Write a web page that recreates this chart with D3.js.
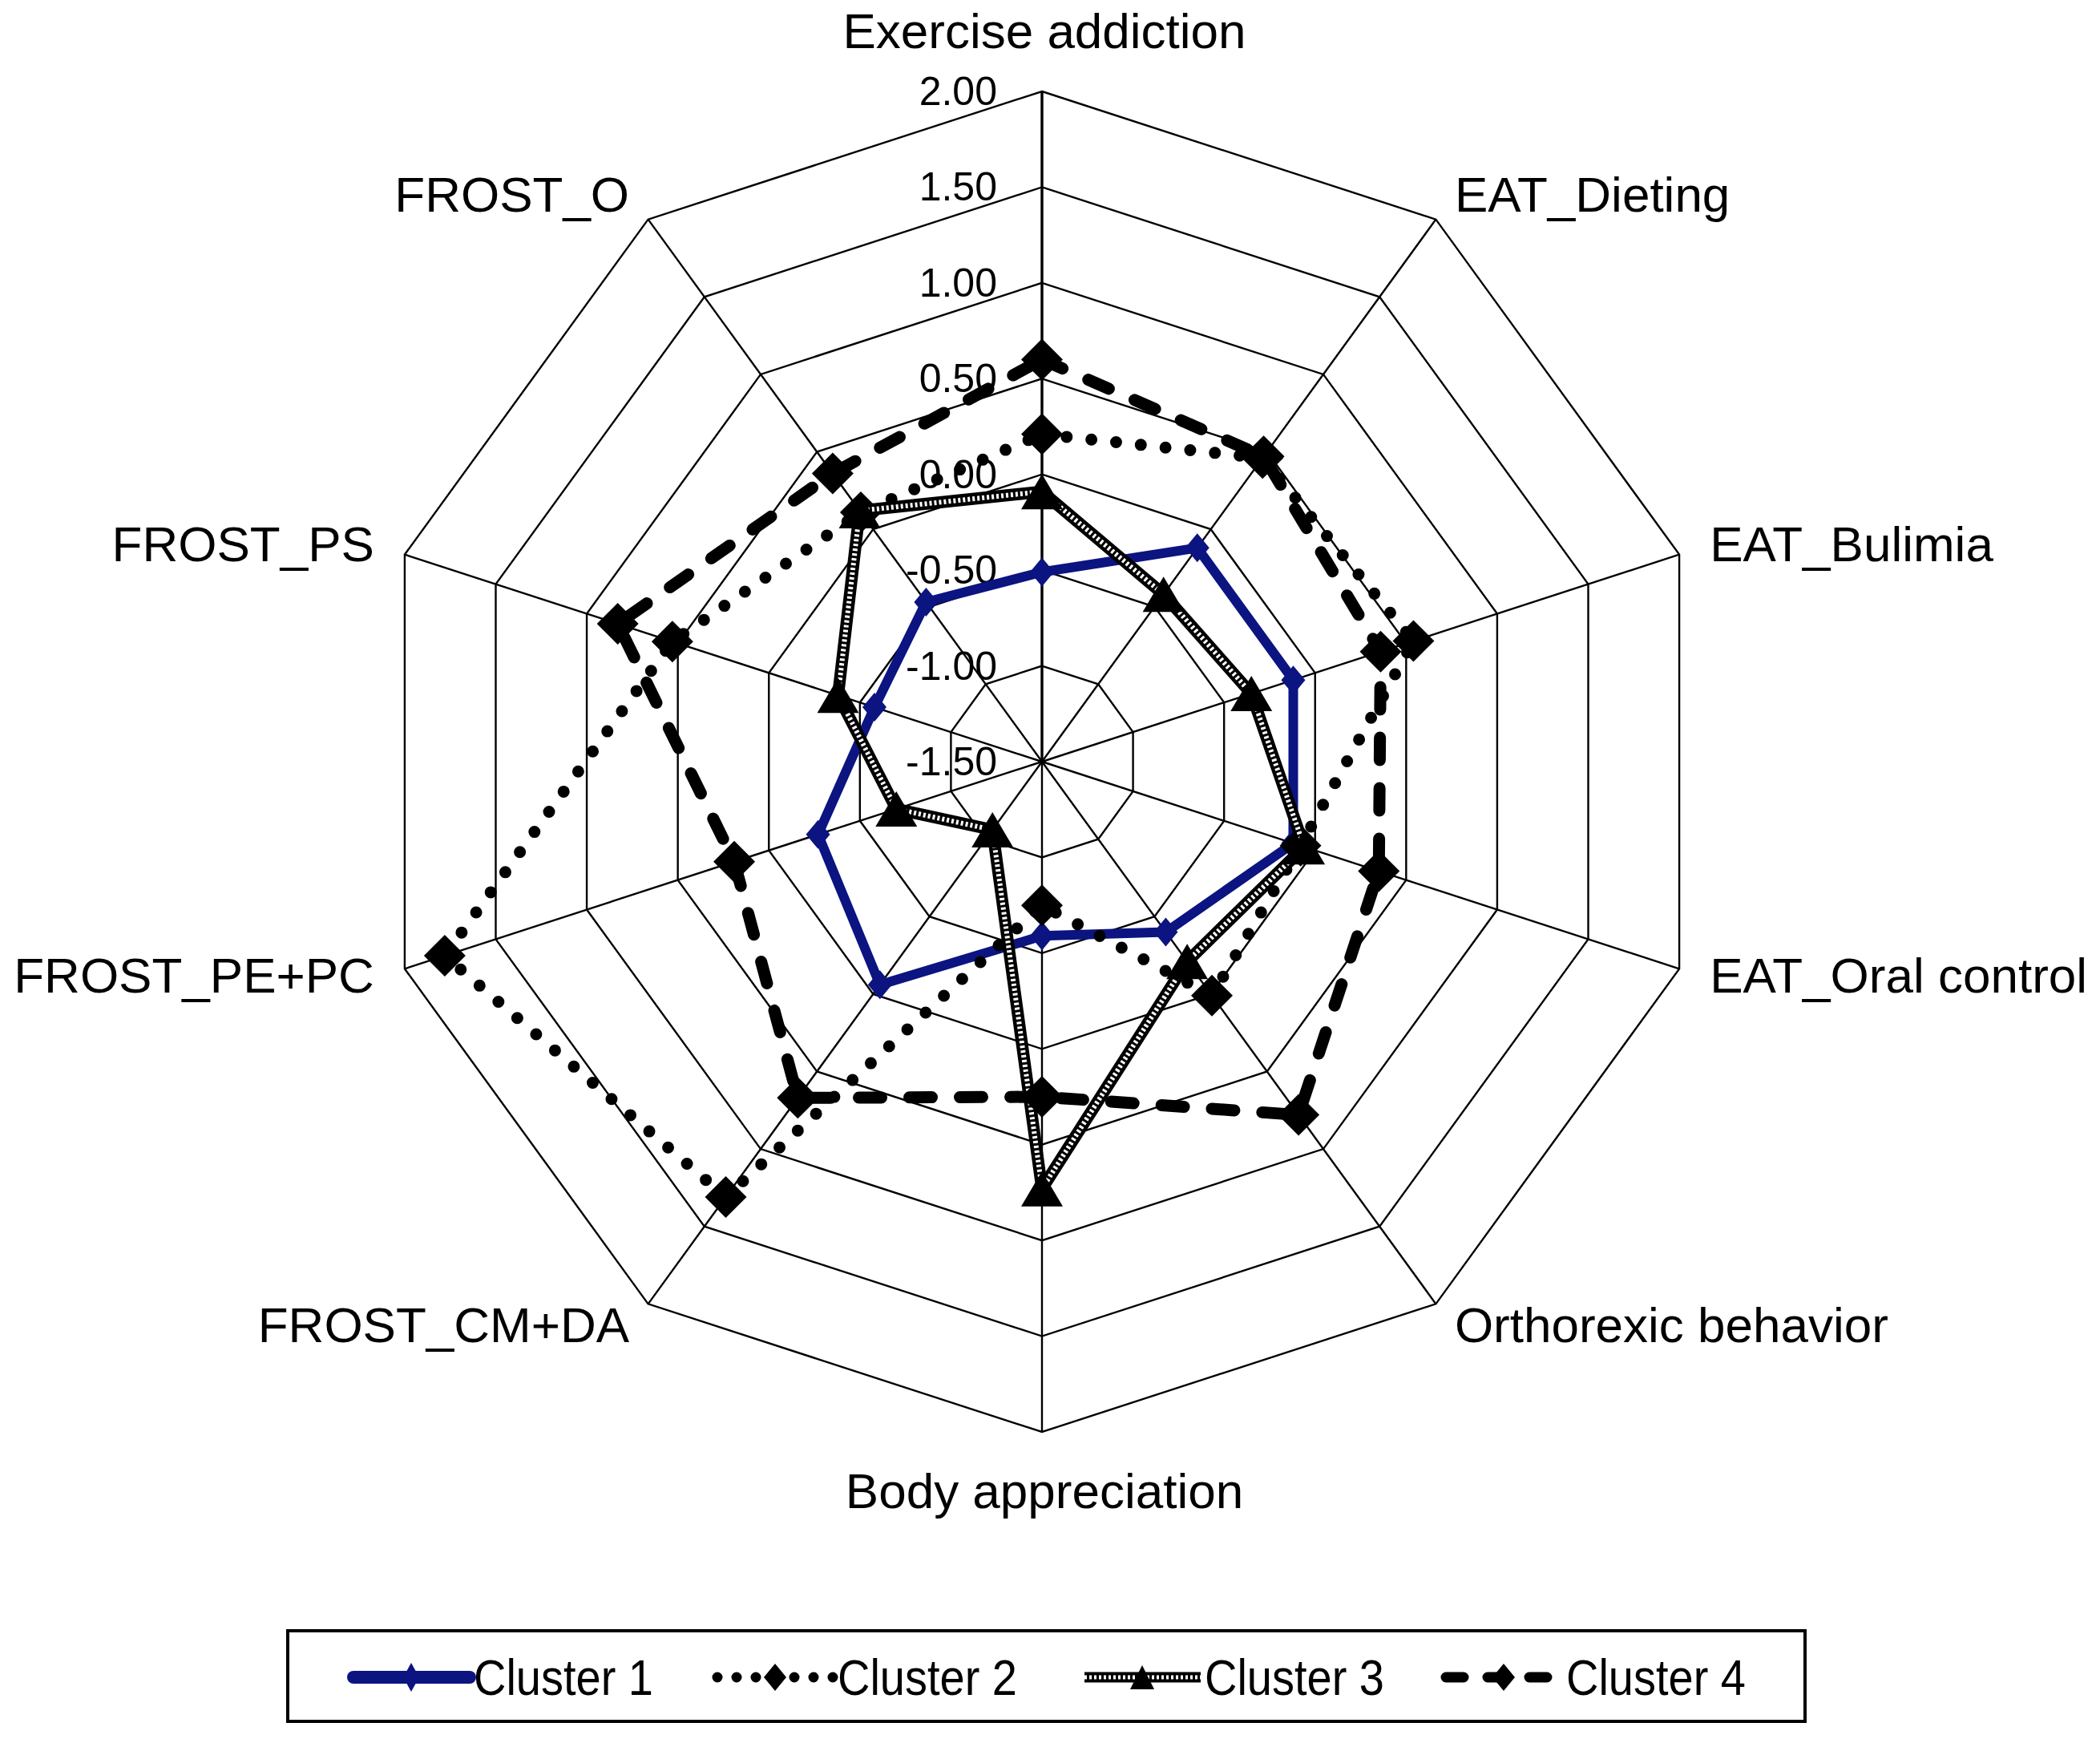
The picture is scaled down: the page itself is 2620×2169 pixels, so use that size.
<!DOCTYPE html>
<html><head><meta charset="utf-8">
<script src="https://cdn.jsdelivr.net/npm/d3@7"></script>
<style>html,body{margin:0;padding:0;background:#fff;} svg{display:block;} text{font-family:"Liberation Sans",Arial,sans-serif;fill:#000;}</style>
</head><body><svg id="chart" width="2620" height="2169"></svg>
<script>
const categories = ["Exercise addiction","EAT_Dieting","EAT_Bulimia","EAT_Oral control","Orthorexic behavior","Body appreciation","FROST_CM+DA","FROST_PE+PC","FROST_PS","FROST_O"];
const seriesNames = ["Cluster 1","Cluster 2","Cluster 3","Cluster 4"];
const cluster1 = [-0.51,-0.12,-0.12,-0.12,-0.40,-0.59,-0.06,-0.27,-0.58,-0.47];
const cluster2 = [0.21,0.46,0.54,-0.08,0.01,-0.75,1.31,1.78,0.53,0.11];
const cluster3 = [-0.09,-0.42,-0.35,-0.06,-0.21,0.73,-1.06,-0.70,-0.38,0.12];
const cluster4 = [0.60,0.47,0.36,0.35,0.78,0.25,0.67,0.19,0.83,0.36];
const tickValues = [-1.5,-1.0,-0.5,0,0.5,1.0,1.5,2.0];
const tickLabels = ["-1.50","-1.00","-0.50","0.00","0.50","1.00","1.50","2.00"];

const svg = d3.select("#chart");
const cx = 1300, cy = 950, R = 836;
const rScale = d3.scaleLinear().domain([-1.5, 2]).range([0, R]);
const aScale = d3.scaleLinear().domain([0, categories.length]).range([0, 2*Math.PI]);
const pt = (i, v) => { const a = aScale(i), r = rScale(v); return [cx + r*Math.sin(a), cy - r*Math.cos(a)]; };

const g = svg.append("g");
// rings
tickValues.filter(v => v > -1.5).forEach(v => {
  g.append("path")
    .attr("d", d3.lineRadial().angle((d,i)=>aScale(i)).radius(()=>rScale(v)).curve(d3.curveLinearClosed)(categories))
    .attr("transform", `translate(${cx},${cy})`)
    .attr("fill","none").attr("stroke","#000").attr("stroke-width",2.4);
});
// spokes
categories.forEach((c,i) => {
  const p = pt(i, 2);
  g.append("line").attr("x1",cx).attr("y1",cy).attr("x2",p[0]).attr("y2",p[1])
    .attr("stroke","#000").attr("stroke-width", i===0 ? 3.4 : 2.4);
});
// tick labels
tickValues.forEach((v,k) => {
  g.append("text").attr("x", cx-56).attr("y", cy - rScale(v) + 17)
    .attr("text-anchor","end").attr("font-size",50).text(tickLabels[k]);
});
// category labels
categories.forEach((c,i) => {
  const a = aScale(i), s = Math.sin(a), co = -Math.cos(a);
  const v = pt(i, 2);
  let x, y, anchor;
  if (Math.abs(s) < 0.01) {
    anchor = "middle"; x = v[0] + 3;
    y = co < 0 ? v[1] - 54 : v[1] + 95;
  } else {
    x = v[0] + 40*s; y = v[1] + 36*co + 19;
    anchor = s > 0 ? "start" : "end";
  }
  g.append("text").attr("x",x).attr("y",y).attr("text-anchor",anchor).attr("font-size",62).text(c);
});

// marker path generators
const diamond = (hw, hh) => `M0,${-hh}L${hw},0L0,${hh}L${-hw},0Z`;
const triangle = (w, h) => `M0,${-h/2}L${w/2},${h/2}L${-w/2},${h/2}Z`;

const styles = [
  {data: cluster1, layers:[{stroke:"#0b1480", width:12}], marker: diamond(15,18), mfill:"#0b1480"},
  {data: cluster2, layers:[{stroke:"#000", width:15, dash:"0 31", cap:"round"}], marker: diamond(26,26), mfill:"#000"},
  {data: cluster3, layers:[{stroke:"#000", width:15},{stroke:"#fff", width:6, dash:"3 3"}], marker: triangle(52,44), mfill:"#000"},
  {data: cluster4, layers:[{stroke:"#000", width:15, dash:"28 35", cap:"round"}], marker: diamond(26,26), mfill:"#000"}
];
const radial = d3.lineRadial().angle((d,i)=>aScale(i)).radius(d=>rScale(d)).curve(d3.curveLinearClosed);
styles.forEach(st => {
  const sg = svg.append("g").attr("transform", `translate(${cx},${cy})`);
  st.layers.forEach(L => {
    sg.append("path").attr("d", radial(st.data)).attr("fill","none")
      .attr("stroke", L.stroke).attr("stroke-width", L.width)
      .attr("stroke-dasharray", L.dash || null)
      .attr("stroke-linecap", L.cap || "butt").attr("stroke-linejoin","round");
  });
  st.data.forEach((v,i) => {
    const p = pt(i, v);
    svg.append("path").attr("d", st.marker).attr("transform", `translate(${p[0]},${p[1]})`).attr("fill", st.mfill);
  });
});

// legend
const lg = svg.append("g");
lg.append("rect").attr("x",359).attr("y",2034).attr("width",1893).attr("height",113)
  .attr("fill","#fff").attr("stroke","#000").attr("stroke-width",4);
const legendX = [441, 895, 1353, 1804];
const legendMarkers = [diamond(10,18), diamond(14,17), triangle(30,30), diamond(14,17)];
const ly = 2092;
styles.forEach((st,k) => {
  const x0 = legendX[k], x1 = x0 + 145;
  st.layers.forEach(L => {
    lg.append("line").attr("x1",x0).attr("x2",x1).attr("y1",ly).attr("y2",ly)
      .attr("stroke", L.stroke).attr("stroke-width", k===0 ? 16 : (L.stroke==="#fff" ? 5 : 13))
      .attr("stroke-dasharray", L.dash ? (k===1 ? "0 24" : (k===3 ? "22 30" : L.dash)) : null)
      .attr("stroke-linecap", (L.cap || (k===0 ? "round" : "butt")));
  });
  lg.append("path").attr("d", legendMarkers[k]).attr("transform",`translate(${x0+72},${ly})`).attr("fill", st.mfill);
  lg.append("text").attr("x", x1+5).attr("y", ly+22).attr("font-size",63)
    .attr("textLength",224).attr("lengthAdjust","spacingAndGlyphs").text(seriesNames[k]);
});
</script></body></html>
